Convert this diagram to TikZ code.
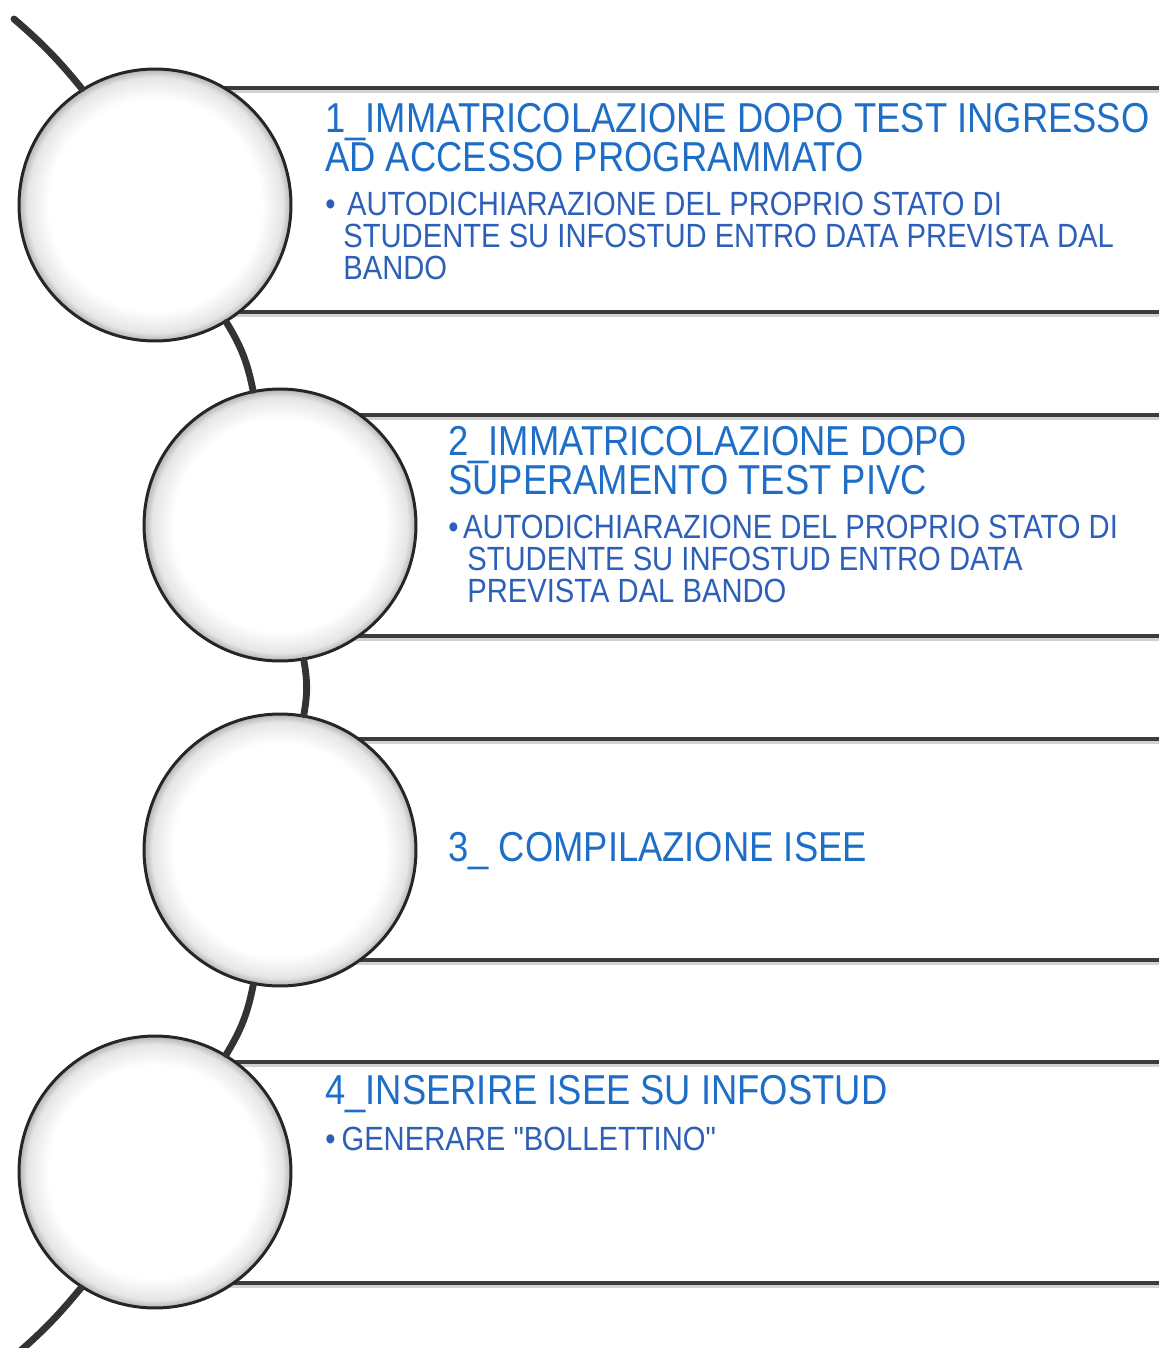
\documentclass[tikz,border=0pt]{standalone}
\usepackage{fontspec}
\newfontfamily\stepfont[FakeStretch=0.87]{Liberation Sans}
\usetikzlibrary{positioning}
\definecolor{titleblue}{RGB}{30,110,200}
\definecolor{itemblue}{RGB}{45,95,185}
\definecolor{rimgray}{RGB}{60,60,60}
\pgfdeclareradialshading{ballshade}{\pgfpointorigin}{color(0bp)=(white); color(19.5bp)=(white); color(23.5bp)=(gray!20); color(25bp)=(gray!60); color(50bp)=(gray!60)}

\begin{document}
\begin{tikzpicture}[x=0.02cm,y=-0.02cm]
    \tikzstyle{every node} = [font=\stepfont]
    \tikzstyle{ball} = [circle, draw=black!85, line width=1.7pt, shading=ballshade, minimum size=5.44cm, inner sep=0pt]
    \tikzstyle{rim} = [rimgray, line width=2.1pt]
    \tikzstyle{rimshadow} = [gray!35, line width=2.3pt]
    \tikzstyle{link} = [black!80, line width=3.9pt, line cap=round]
    \tikzstyle{title} = [anchor=north west, inner sep=0pt, align=left, text=titleblue, font=\stepfont\fontsize{23.8}{21}\selectfont]
    \tikzstyle{item} = [anchor=north west, inner sep=0pt, align=left, text=itemblue, font=\stepfont\fontsize{19.1}{18.1}\selectfont]
    \useasboundingbox (0,0) rectangle (1159,1348);

    % bands behind the circles
    \draw[rimshadow] (155,91) -- (1159,91);
    \draw[rim] (155,88) -- (1159,88);
    \draw[rimshadow] (155,315) -- (1159,315);
    \draw[rim] (155,312) -- (1159,312);
    \draw[rimshadow] (280,418) -- (1159,418);
    \draw[rim] (280,415) -- (1159,415);
    \draw[rimshadow] (280,639) -- (1159,639);
    \draw[rim] (280,636) -- (1159,636);
    \draw[rimshadow] (280,742) -- (1159,742);
    \draw[rim] (280,739) -- (1159,739);
    \draw[rimshadow] (280,963) -- (1159,963);
    \draw[rim] (280,960) -- (1159,960);
    \draw[rimshadow] (155,1065) -- (1159,1065);
    \draw[rim] (155,1062) -- (1159,1062);
    \draw[rimshadow] (155,1286) -- (1159,1286);
    \draw[rim] (155,1283) -- (1159,1283);

    % place nodes
    \node[ball] (c1) at (155,205) {};
    \node[ball] (c2) at (280,525) {};
    \node[ball] (c3) at (280,850) {};
    \node[ball] (c4) at (155,1172) {};
    \coordinate (top) at (14,19);
    \coordinate (bottom) at (12,1358);

    \node[title] (t1) at (325,103) {1\_IMMATRICOLAZIONE DOPO TEST INGRESSO\\AD ACCESSO PROGRAMMATO};
    \node[item] (d1) at (325,192) {\textbullet\hspace{0.23cm}AUTODICHIARAZIONE DEL PROPRIO STATO DI\\\hspace*{0.36cm}STUDENTE SU INFOSTUD ENTRO DATA PREVISTA DAL\\\hspace*{0.36cm}BANDO};
    \node[title] (t2) at (448,426) {2\_IMMATRICOLAZIONE DOPO\\SUPERAMENTO TEST PIVC};
    \node[item] (d2) at (448,515) {\textbullet\hspace{0.09cm}AUTODICHIARAZIONE DEL PROPRIO STATO DI\\\hspace*{0.38cm}STUDENTE SU INFOSTUD ENTRO DATA\\\hspace*{0.38cm}PREVISTA DAL BANDO};
    \node[title] (t3) at (448,832) {3\_ COMPILAZIONE ISEE};
    \node[title] (t4) at (325,1075) {4\_INSERIRE ISEE SU INFOSTUD};
    \node[item] (d4) at (325,1127) {\textbullet\hspace{0.12cm}GENERARE "BOLLETTINO"};

    % Connections
    \draw[link] (top) to[bend left=5] (c1);
    \draw[link] (c1) to[bend left=10] (c2);
    \draw[link] (c2) to[bend left=10] (c3);
    \draw[link] (c3) to[bend left=10] (c4);
    \draw[link] (c4) to[bend left=5] (bottom);
\end{tikzpicture}
\end{document}
